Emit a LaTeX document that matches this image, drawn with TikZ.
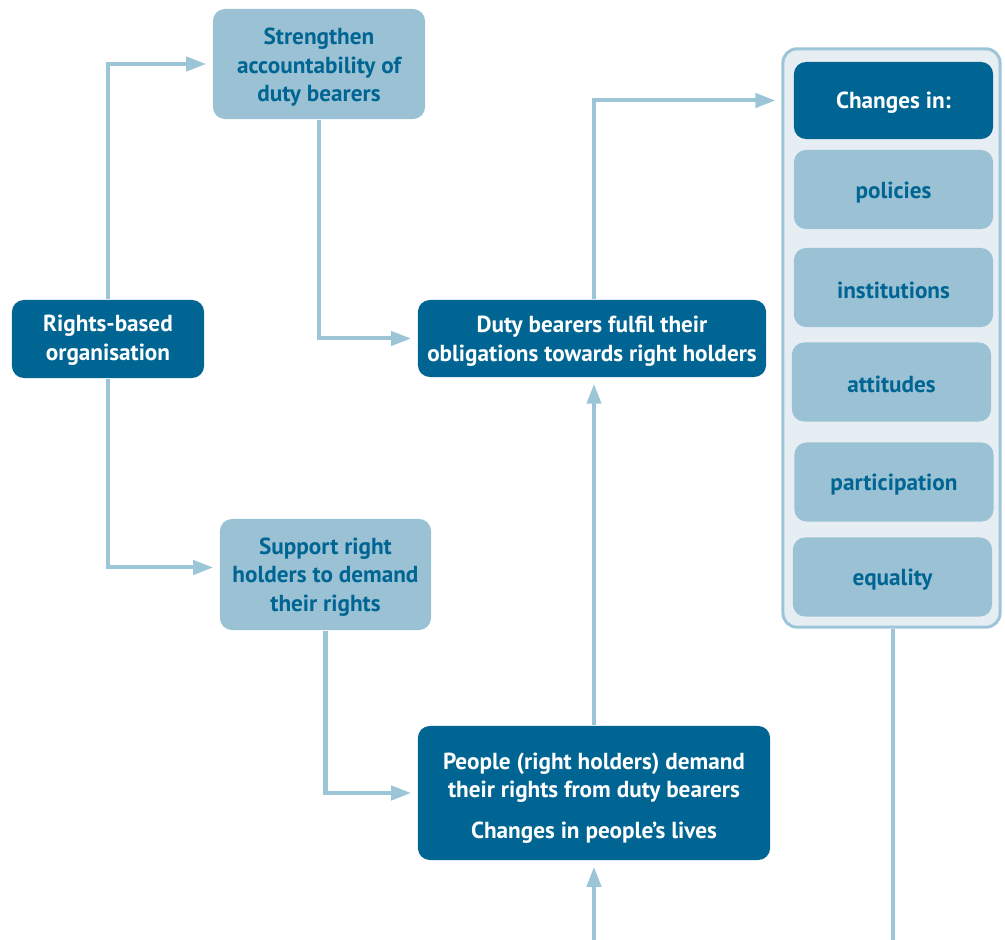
\documentclass[tikz,border=0pt]{standalone}
\usepackage{fontspec}
\setmainfont{PT Sans}
\usetikzlibrary{arrows.meta,calc}
\definecolor{dark}{HTML}{006593}
\definecolor{light}{HTML}{9AC2D4}
\definecolor{panelbg}{HTML}{E6EEF4}
\definecolor{wire}{HTML}{9CC5D8}
\newcommand\firstlinestrut[1]{\rule{0pt}{#1}}
\begin{document}
\begin{tikzpicture}[x=0.01cm,y=-0.01cm,
  box/.style={rounded corners=0.12cm, align=center, inner sep=0pt,
    font=\bfseries\fontsize{6.6}{8.2}\selectfont},
  darkbox/.style={box, fill=dark, text=white},
  lightbox/.style={box, fill=light, text=dark},
  listbox/.style={lightbox, minimum width=1.99cm, minimum height=0.79cm},
  wireline/.style={draw=wire, line width=0.04cm},
  arr/.style={wireline, -{Triangle[length=0.2cm,width=0.14cm]}, shorten >=0.06cm}]
\useasboundingbox (0,0) rectangle (1005,940);

% outcome panel behind the list of changes
\node[draw=wire, line width=0.03cm, fill=panelbg, rounded corners=0.14cm,
  minimum width=2.17cm, minimum height=5.78cm, inner sep=0pt] (panel) at (891.5,338) {};
\node[darkbox, minimum width=1.99cm, minimum height=0.77cm] (changes) at (893.5,100.5) {\firstlinestrut{6.2pt}Changes in:};
\node[listbox] (policies) at (893.5,189.5) {\firstlinestrut{6.2pt}policies};
\node[listbox] (institutions) at (893.5,287.5) {\firstlinestrut{6.2pt}institutions};
\node[listbox] (attitudes) at (891.5,382) {\firstlinestrut{6.2pt}attitudes};
\node[listbox] (participation) at (894,482) {\firstlinestrut{6.2pt}participation};
\node[listbox] (equality) at (892.5,577) {\firstlinestrut{6.2pt}equality};

% main flow boxes
\node[lightbox, minimum width=2.12cm, minimum height=1.10cm] (strengthen) at (319,64)
  {\firstlinestrut{6.5pt}Strengthen\\accountability of\\duty bearers};
\node[darkbox, minimum width=1.92cm, minimum height=0.78cm] (rba) at (108,339)
  {\firstlinestrut{5.6pt}Rights-based\\organisation};
\node[lightbox, minimum width=2.11cm, minimum height=1.11cm] (support) at (325.5,574.5)
  {\firstlinestrut{6.2pt}Support right\\holders to demand\\their rights};
\node[darkbox, minimum width=3.48cm, minimum height=0.77cm] (duty) at (592,338.5)
  {\firstlinestrut{6.2pt}Duty bearers fulfil their\\obligations towards right holders};
\node[darkbox, minimum width=3.52cm, minimum height=1.34cm] (people) at (594,793)
  {\firstlinestrut{7.6pt}People (right holders) demand\\their rights from duty bearers\\[0.12cm]Changes in people’s lives};

\coordinate (inflow) at (594,940);
\coordinate (outflow) at (893,940);

% connectors
\draw[arr] (rba.north) |- (strengthen.west);
\draw[arr] (rba.south) |- ($(support.west)+(0,-7)$);
\draw[arr] (strengthen.south) |- (duty.west);
\draw[arr] (support.south) |- (people.west);
\draw[arr] (people.north) -- (people.north |- duty.south);
\draw[arr] (people.north |- duty.north) |- (panel.west |- changes.west);
\draw[arr] (inflow) -- (people.south);
\draw[wireline] (outflow |- panel.south) -- (outflow);
\end{tikzpicture}
\end{document}
